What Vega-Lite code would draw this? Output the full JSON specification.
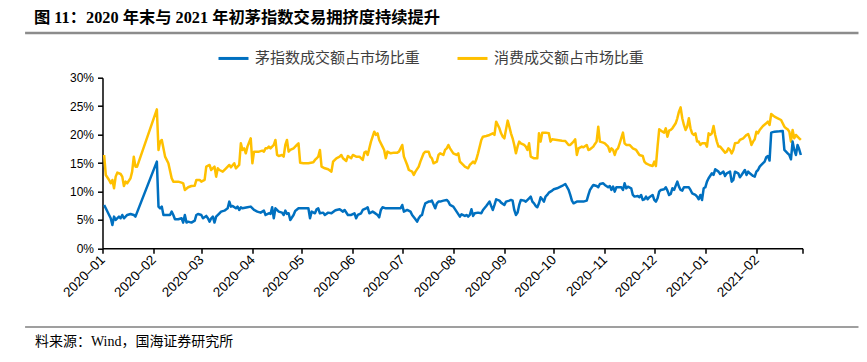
{
  "$schema": "https://vega.github.io/schema/vega-lite/v6.json",
  "width": 700,
  "height": 170.6,
  "autosize": {"type": "none"},
  "padding": {"left": 102.5, "top": 77.7, "right": 64.3, "bottom": 113.7},
  "background": "#ffffff",
  "config": {
    "view": {"stroke": null},
    "font": "Liberation Sans",
    "axis": {"grid": false, "domainColor": "#000000", "domainWidth": 1.5, "tickColor": "#000000", "tickWidth": 1.5, "tickSize": 5, "labelPadding": 4, "labelFont": "Liberation Sans", "labelFontSize": 12, "labelColor": "#000000", "labelOverlap": false, "labelBound": false, "title": null},
    "axisX": {"labelAngle": -45, "labelAlign": "right", "labelBaseline": "middle", "labelPadding": 4, "labelFontSize": 13.5}
  },
  "title": {
    "text": "图 11：2020 年末与 2021 年初茅指数交易拥挤度持续提升",
    "anchor": "start",
    "frame": "group",
    "dx": -68.5,
    "offset": 5,
    "font": "'Liberation Serif', 'Noto Sans CJK SC'",
    "fontSize": 16.3,
    "fontWeight": "bold",
    "color": "#000000"
  },
  "datasets": {
    "xf": [
      {"d":"2020-01-02","v":16.41},{"d":"2020-01-03","v":12.90},{"d":"2020-01-05","v":12.02},{"d":"2020-01-06","v":11.43},{"d":"2020-01-07","v":12.02},{"d":"2020-01-08","v":10.55},{"d":"2020-01-09","v":12.60},{"d":"2020-01-10","v":13.31},{"d":"2020-01-12","v":13.07},{"d":"2020-01-13","v":12.60},{"d":"2020-01-14","v":10.96},{"d":"2020-01-15","v":11.72},{"d":"2020-01-16","v":11.43},{"d":"2020-01-18","v":12.31},{"d":"2020-01-19","v":13.48},{"d":"2020-01-20","v":16.12},{"d":"2020-01-21","v":14.36},{"d":"2020-01-22","v":14.36},
      {"d":"2020-02-03","v":24.44},{"d":"2020-02-04","v":17.29},{"d":"2020-02-05","v":18.76},{"d":"2020-02-06","v":19.05},{"d":"2020-02-07","v":17.58},{"d":"2020-02-08","v":16.12},{"d":"2020-02-10","v":14.95},{"d":"2020-02-12","v":12.31},{"d":"2020-02-13","v":11.72},{"d":"2020-02-16","v":11.72},{"d":"2020-02-18","v":11.55},{"d":"2020-02-19","v":11.43},{"d":"2020-02-20","v":10.26},{"d":"2020-02-22","v":10.73},{"d":"2020-02-24","v":10.96},{"d":"2020-02-26","v":11.02},{"d":"2020-02-27","v":12.02},{"d":"2020-02-29","v":12.02},
      {"d":"2020-03-01","v":11.72},{"d":"2020-03-03","v":12.02},{"d":"2020-03-04","v":14.36},{"d":"2020-03-06","v":14.65},{"d":"2020-03-07","v":13.77},{"d":"2020-03-09","v":14.36},{"d":"2020-03-10","v":12.60},{"d":"2020-03-11","v":14.07},{"d":"2020-03-12","v":13.77},{"d":"2020-03-14","v":13.48},{"d":"2020-03-16","v":14.07},{"d":"2020-03-18","v":14.65},{"d":"2020-03-19","v":14.24},{"d":"2020-03-21","v":14.95},{"d":"2020-03-22","v":14.07},{"d":"2020-03-24","v":14.65},{"d":"2020-03-25","v":18.46},{"d":"2020-03-26","v":17.29},{"d":"2020-03-27","v":17.58},{"d":"2020-03-28","v":16.70},{"d":"2020-03-29","v":17.88},{"d":"2020-03-31","v":19.34},
      {"d":"2020-04-01","v":14.95},{"d":"2020-04-02","v":17.00},{"d":"2020-04-03","v":17.00},{"d":"2020-04-05","v":17.00},{"d":"2020-04-07","v":17.17},{"d":"2020-04-08","v":17.00},{"d":"2020-04-09","v":17.58},{"d":"2020-04-10","v":17.58},{"d":"2020-04-11","v":17.88},{"d":"2020-04-12","v":17.58},{"d":"2020-04-14","v":18.17},{"d":"2020-04-15","v":19.05},{"d":"2020-04-16","v":16.41},{"d":"2020-04-17","v":16.24},{"d":"2020-04-19","v":16.41},{"d":"2020-04-20","v":16.12},{"d":"2020-04-21","v":18.17},{"d":"2020-04-22","v":19.05},{"d":"2020-04-23","v":17.00},{"d":"2020-04-24","v":17.29},{"d":"2020-04-26","v":17.58},{"d":"2020-04-28","v":18.17},{"d":"2020-04-29","v":18.46},{"d":"2020-04-30","v":15.06},
      {"d":"2020-05-02","v":14.95},{"d":"2020-05-05","v":14.95},{"d":"2020-05-08","v":15.12},{"d":"2020-05-09","v":15.53},{"d":"2020-05-10","v":15.83},{"d":"2020-05-11","v":16.12},{"d":"2020-05-12","v":17.29},{"d":"2020-05-13","v":14.36},{"d":"2020-05-15","v":14.07},{"d":"2020-05-17","v":13.89},{"d":"2020-05-19","v":13.48},{"d":"2020-05-20","v":15.24},{"d":"2020-05-22","v":15.83},{"d":"2020-05-24","v":16.12},{"d":"2020-05-25","v":16.41},{"d":"2020-05-26","v":15.83},{"d":"2020-05-28","v":15.36},{"d":"2020-05-29","v":16.24},{"d":"2020-05-31","v":15.83},
      {"d":"2020-06-01","v":16.41},{"d":"2020-06-03","v":16.12},{"d":"2020-06-05","v":16.12},{"d":"2020-06-07","v":15.53},{"d":"2020-06-08","v":16.82},{"d":"2020-06-09","v":17.00},{"d":"2020-06-10","v":16.41},{"d":"2020-06-12","v":18.76},{"d":"2020-06-14","v":20.51},{"d":"2020-06-15","v":19.93},{"d":"2020-06-16","v":20.22},{"d":"2020-06-17","v":19.05},{"d":"2020-06-19","v":17.88},{"d":"2020-06-20","v":17.29},{"d":"2020-06-21","v":15.83},{"d":"2020-06-22","v":17.00},{"d":"2020-06-24","v":16.70},{"d":"2020-06-26","v":16.82},{"d":"2020-06-28","v":16.82},{"d":"2020-06-29","v":17.00},
      {"d":"2020-07-01","v":18.17},{"d":"2020-07-02","v":16.12},{"d":"2020-07-04","v":14.65},{"d":"2020-07-05","v":13.77},{"d":"2020-07-07","v":13.48},{"d":"2020-07-08","v":12.90},{"d":"2020-07-09","v":13.48},{"d":"2020-07-11","v":14.36},{"d":"2020-07-12","v":15.24},{"d":"2020-07-14","v":16.70},{"d":"2020-07-15","v":17.00},{"d":"2020-07-17","v":17.00},{"d":"2020-07-18","v":16.12},{"d":"2020-07-19","v":15.83},{"d":"2020-07-20","v":14.95},{"d":"2020-07-22","v":15.24},{"d":"2020-07-23","v":16.41},{"d":"2020-07-24","v":16.70},{"d":"2020-07-26","v":16.41},{"d":"2020-07-27","v":17.29},{"d":"2020-07-28","v":17.58},{"d":"2020-07-29","v":18.17},{"d":"2020-07-30","v":17.58},
      {"d":"2020-08-01","v":16.70},{"d":"2020-08-03","v":16.41},{"d":"2020-08-04","v":16.70},{"d":"2020-08-05","v":15.24},{"d":"2020-08-07","v":14.65},{"d":"2020-08-08","v":14.36},{"d":"2020-08-10","v":14.07},{"d":"2020-08-11","v":14.65},{"d":"2020-08-12","v":14.95},{"d":"2020-08-13","v":15.24},{"d":"2020-08-14","v":14.95},{"d":"2020-08-15","v":15.65},{"d":"2020-08-16","v":16.70},{"d":"2020-08-18","v":19.05},{"d":"2020-08-19","v":19.63},{"d":"2020-08-21","v":19.75},{"d":"2020-08-23","v":19.93},{"d":"2020-08-25","v":20.22},{"d":"2020-08-26","v":19.93},{"d":"2020-08-27","v":22.27},{"d":"2020-08-29","v":21.10},{"d":"2020-08-30","v":20.22},{"d":"2020-08-31","v":19.63},
      {"d":"2020-09-01","v":19.34},{"d":"2020-09-03","v":22.45},{"d":"2020-09-04","v":21.39},{"d":"2020-09-05","v":20.22},{"d":"2020-09-06","v":19.34},{"d":"2020-09-07","v":18.17},{"d":"2020-09-08","v":16.70},{"d":"2020-09-09","v":17.88},{"d":"2020-09-10","v":18.76},{"d":"2020-09-11","v":18.46},{"d":"2020-09-13","v":18.17},{"d":"2020-09-14","v":17.88},{"d":"2020-09-15","v":17.29},{"d":"2020-09-16","v":18.46},{"d":"2020-09-17","v":16.12},{"d":"2020-09-19","v":15.83},{"d":"2020-09-21","v":15.83},{"d":"2020-09-22","v":20.22},{"d":"2020-09-23","v":18.76},{"d":"2020-09-24","v":20.34},{"d":"2020-09-26","v":20.34},{"d":"2020-09-28","v":20.22},{"d":"2020-09-29","v":18.76},{"d":"2020-09-30","v":19.17},
      {"d":"2020-10-03","v":19.05},{"d":"2020-10-06","v":18.93},{"d":"2020-10-08","v":18.87},{"d":"2020-10-10","v":18.17},{"d":"2020-10-11","v":18.17},{"d":"2020-10-13","v":18.76},{"d":"2020-10-14","v":19.17},{"d":"2020-10-15","v":16.41},{"d":"2020-10-16","v":17.58},{"d":"2020-10-18","v":17.88},{"d":"2020-10-19","v":17.76},{"d":"2020-10-21","v":18.17},{"d":"2020-10-22","v":17.29},{"d":"2020-10-23","v":17.41},{"d":"2020-10-25","v":17.88},{"d":"2020-10-26","v":18.35},{"d":"2020-10-27","v":18.76},{"d":"2020-10-28","v":21.39},{"d":"2020-10-29","v":18.76},{"d":"2020-10-31","v":18.58},
      {"d":"2020-11-01","v":18.46},{"d":"2020-11-03","v":17.88},{"d":"2020-11-04","v":17.00},{"d":"2020-11-05","v":17.58},{"d":"2020-11-06","v":17.29},{"d":"2020-11-07","v":16.41},{"d":"2020-11-08","v":17.29},{"d":"2020-11-09","v":17.58},{"d":"2020-11-10","v":18.46},{"d":"2020-11-12","v":20.34},{"d":"2020-11-13","v":18.46},{"d":"2020-11-14","v":18.17},{"d":"2020-11-16","v":18.17},{"d":"2020-11-18","v":17.58},{"d":"2020-11-20","v":17.29},{"d":"2020-11-22","v":16.41},{"d":"2020-11-24","v":16.24},{"d":"2020-11-25","v":15.24},{"d":"2020-11-26","v":14.95},{"d":"2020-11-28","v":14.65},{"d":"2020-11-30","v":14.48},
      {"d":"2020-12-01","v":15.24},{"d":"2020-12-02","v":14.48},{"d":"2020-12-03","v":17.88},{"d":"2020-12-04","v":20.92},{"d":"2020-12-06","v":20.51},{"d":"2020-12-07","v":20.34},{"d":"2020-12-08","v":21.10},{"d":"2020-12-09","v":19.63},{"d":"2020-12-10","v":20.69},{"d":"2020-12-11","v":20.81},{"d":"2020-12-12","v":21.10},{"d":"2020-12-14","v":21.98},{"d":"2020-12-15","v":22.86},{"d":"2020-12-16","v":24.03},{"d":"2020-12-17","v":24.79},{"d":"2020-12-18","v":22.86},{"d":"2020-12-19","v":21.69},{"d":"2020-12-20","v":20.81},{"d":"2020-12-21","v":21.39},{"d":"2020-12-22","v":22.86},{"d":"2020-12-23","v":21.10},{"d":"2020-12-24","v":20.22},{"d":"2020-12-25","v":19.93},{"d":"2020-12-26","v":20.22},{"d":"2020-12-27","v":18.76},{"d":"2020-12-28","v":18.76},{"d":"2020-12-29","v":18.17},{"d":"2020-12-30","v":18.46},
      {"d":"2021-01-01","v":18.46},{"d":"2021-01-02","v":17.88},{"d":"2021-01-03","v":20.22},{"d":"2021-01-04","v":19.93},{"d":"2021-01-05","v":20.22},{"d":"2021-01-06","v":21.51},{"d":"2021-01-07","v":19.93},{"d":"2021-01-08","v":18.76},{"d":"2021-01-09","v":17.88},{"d":"2021-01-10","v":17.88},{"d":"2021-01-12","v":17.17},{"d":"2021-01-13","v":16.82},{"d":"2021-01-14","v":17.00},{"d":"2021-01-15","v":17.58},{"d":"2021-01-16","v":17.29},{"d":"2021-01-17","v":16.70},{"d":"2021-01-18","v":17.29},{"d":"2021-01-19","v":18.46},{"d":"2021-01-21","v":18.58},{"d":"2021-01-22","v":19.05},{"d":"2021-01-24","v":19.34},{"d":"2021-01-26","v":19.93},{"d":"2021-01-27","v":20.10},{"d":"2021-01-28","v":19.34},{"d":"2021-01-29","v":18.17},{"d":"2021-01-30","v":18.76},{"d":"2021-01-31","v":19.17},
      {"d":"2021-02-01","v":20.51},{"d":"2021-02-02","v":20.22},{"d":"2021-02-03","v":20.81},{"d":"2021-02-05","v":21.51},{"d":"2021-02-07","v":21.98},{"d":"2021-02-08","v":22.27},{"d":"2021-02-09","v":21.69},{"d":"2021-02-10","v":23.62},{"d":"2021-02-12","v":23.15},{"d":"2021-02-14","v":22.86},{"d":"2021-02-16","v":22.56},{"d":"2021-02-18","v":21.39},{"d":"2021-02-19","v":21.10},{"d":"2021-02-20","v":20.92},{"d":"2021-02-21","v":20.51},{"d":"2021-02-22","v":18.76},{"d":"2021-02-23","v":20.81},{"d":"2021-02-24","v":19.34},{"d":"2021-02-25","v":19.93},{"d":"2021-02-26","v":19.63},{"d":"2021-02-27","v":19.34},{"d":"2021-02-28","v":19.05}
    ],
    "mao": [
      {"d":"2020-01-02","v":7.62},{"d":"2020-01-03","v":7.03},{"d":"2020-01-05","v":5.86},{"d":"2020-01-06","v":5.28},{"d":"2020-01-07","v":4.11},{"d":"2020-01-08","v":5.57},{"d":"2020-01-09","v":4.98},{"d":"2020-01-11","v":5.57},{"d":"2020-01-12","v":5.28},{"d":"2020-01-13","v":5.86},{"d":"2020-01-14","v":5.28},{"d":"2020-01-16","v":5.86},{"d":"2020-01-18","v":6.04},{"d":"2020-01-20","v":5.86},{"d":"2020-01-21","v":5.57},
      {"d":"2020-02-03","v":15.24},{"d":"2020-02-04","v":7.33},{"d":"2020-02-05","v":7.03},{"d":"2020-02-06","v":7.33},{"d":"2020-02-07","v":5.86},{"d":"2020-02-09","v":5.86},{"d":"2020-02-11","v":5.86},{"d":"2020-02-12","v":6.45},{"d":"2020-02-13","v":5.86},{"d":"2020-02-14","v":5.10},{"d":"2020-02-16","v":5.10},{"d":"2020-02-18","v":5.28},{"d":"2020-02-19","v":4.52},{"d":"2020-02-20","v":5.86},{"d":"2020-02-21","v":4.52},{"d":"2020-02-22","v":4.69},{"d":"2020-02-24","v":4.52},{"d":"2020-02-26","v":4.87},{"d":"2020-02-27","v":5.86},{"d":"2020-02-28","v":6.04},
      {"d":"2020-03-01","v":5.86},{"d":"2020-03-02","v":5.28},{"d":"2020-03-04","v":5.69},{"d":"2020-03-05","v":5.28},{"d":"2020-03-06","v":4.69},{"d":"2020-03-07","v":5.28},{"d":"2020-03-08","v":5.57},{"d":"2020-03-09","v":4.52},{"d":"2020-03-10","v":5.57},{"d":"2020-03-12","v":6.16},{"d":"2020-03-13","v":6.45},{"d":"2020-03-15","v":6.62},{"d":"2020-03-17","v":7.03},{"d":"2020-03-18","v":8.21},{"d":"2020-03-19","v":7.33},{"d":"2020-03-20","v":7.45},{"d":"2020-03-22","v":7.03},{"d":"2020-03-23","v":7.33},{"d":"2020-03-24","v":6.74},{"d":"2020-03-25","v":7.21},{"d":"2020-03-26","v":7.03},{"d":"2020-03-29","v":7.21},{"d":"2020-03-31","v":7.33},
      {"d":"2020-04-02","v":6.74},{"d":"2020-04-04","v":6.45},{"d":"2020-04-06","v":6.27},{"d":"2020-04-08","v":6.62},{"d":"2020-04-09","v":5.86},{"d":"2020-04-11","v":6.16},{"d":"2020-04-12","v":6.04},{"d":"2020-04-13","v":7.21},{"d":"2020-04-14","v":5.28},{"d":"2020-04-15","v":7.03},{"d":"2020-04-17","v":6.45},{"d":"2020-04-19","v":6.27},{"d":"2020-04-20","v":5.86},{"d":"2020-04-21","v":6.62},{"d":"2020-04-22","v":6.04},{"d":"2020-04-23","v":6.16},{"d":"2020-04-24","v":4.98},{"d":"2020-04-26","v":5.86},{"d":"2020-04-27","v":6.57},{"d":"2020-04-29","v":7.03},
      {"d":"2020-05-01","v":7.03},{"d":"2020-05-03","v":7.03},{"d":"2020-05-05","v":7.03},{"d":"2020-05-06","v":5.28},{"d":"2020-05-07","v":6.45},{"d":"2020-05-09","v":6.16},{"d":"2020-05-10","v":6.86},{"d":"2020-05-11","v":7.03},{"d":"2020-05-12","v":6.16},{"d":"2020-05-14","v":6.27},{"d":"2020-05-15","v":5.86},{"d":"2020-05-17","v":6.27},{"d":"2020-05-19","v":6.16},{"d":"2020-05-21","v":6.62},{"d":"2020-05-22","v":6.74},{"d":"2020-05-24","v":6.86},{"d":"2020-05-26","v":6.45},{"d":"2020-05-27","v":6.74},{"d":"2020-05-29","v":5.86},{"d":"2020-05-31","v":5.86},
      {"d":"2020-06-02","v":6.16},{"d":"2020-06-03","v":5.28},{"d":"2020-06-04","v":5.86},{"d":"2020-06-06","v":6.16},{"d":"2020-06-07","v":6.74},{"d":"2020-06-09","v":7.03},{"d":"2020-06-10","v":7.21},{"d":"2020-06-11","v":6.16},{"d":"2020-06-13","v":6.45},{"d":"2020-06-14","v":6.27},{"d":"2020-06-16","v":5.86},{"d":"2020-06-17","v":5.45},{"d":"2020-06-18","v":6.74},{"d":"2020-06-19","v":7.21},{"d":"2020-06-21","v":7.03},{"d":"2020-06-23","v":7.03},{"d":"2020-06-25","v":7.03},{"d":"2020-06-28","v":7.03},{"d":"2020-06-30","v":7.03},
      {"d":"2020-07-01","v":7.62},{"d":"2020-07-02","v":6.45},{"d":"2020-07-04","v":6.74},{"d":"2020-07-06","v":6.45},{"d":"2020-07-07","v":5.86},{"d":"2020-07-09","v":5.10},{"d":"2020-07-10","v":4.69},{"d":"2020-07-11","v":5.28},{"d":"2020-07-12","v":5.69},{"d":"2020-07-13","v":5.86},{"d":"2020-07-14","v":7.03},{"d":"2020-07-15","v":7.91},{"d":"2020-07-17","v":8.21},{"d":"2020-07-18","v":8.21},{"d":"2020-07-19","v":8.38},{"d":"2020-07-21","v":7.03},{"d":"2020-07-22","v":7.91},{"d":"2020-07-23","v":8.21},{"d":"2020-07-24","v":8.21},{"d":"2020-07-26","v":8.38},{"d":"2020-07-28","v":8.50},{"d":"2020-07-29","v":8.21},{"d":"2020-07-30","v":7.62},
      {"d":"2020-08-01","v":7.33},{"d":"2020-08-03","v":6.45},{"d":"2020-08-05","v":5.57},{"d":"2020-08-06","v":5.98},{"d":"2020-08-08","v":5.69},{"d":"2020-08-09","v":5.86},{"d":"2020-08-10","v":5.57},{"d":"2020-08-11","v":5.86},{"d":"2020-08-12","v":6.86},{"d":"2020-08-13","v":5.69},{"d":"2020-08-14","v":6.16},{"d":"2020-08-16","v":6.27},{"d":"2020-08-18","v":6.16},{"d":"2020-08-19","v":6.74},{"d":"2020-08-21","v":7.45},{"d":"2020-08-23","v":8.21},{"d":"2020-08-24","v":7.45},{"d":"2020-08-25","v":6.74},{"d":"2020-08-26","v":7.62},{"d":"2020-08-27","v":8.62},{"d":"2020-08-29","v":8.38},{"d":"2020-08-30","v":8.03},
      {"d":"2020-09-01","v":7.62},{"d":"2020-09-02","v":8.21},{"d":"2020-09-04","v":8.38},{"d":"2020-09-05","v":8.50},{"d":"2020-09-06","v":8.38},{"d":"2020-09-07","v":6.74},{"d":"2020-09-08","v":5.86},{"d":"2020-09-09","v":6.27},{"d":"2020-09-10","v":7.62},{"d":"2020-09-11","v":8.50},{"d":"2020-09-13","v":8.38},{"d":"2020-09-14","v":8.21},{"d":"2020-09-16","v":8.79},{"d":"2020-09-17","v":9.09},{"d":"2020-09-18","v":8.21},{"d":"2020-09-19","v":7.91},{"d":"2020-09-20","v":7.45},{"d":"2020-09-21","v":7.21},{"d":"2020-09-22","v":7.91},{"d":"2020-09-23","v":8.97},{"d":"2020-09-24","v":8.62},{"d":"2020-09-25","v":8.21},{"d":"2020-09-26","v":9.09},{"d":"2020-09-27","v":9.38},{"d":"2020-09-28","v":9.79},{"d":"2020-09-30","v":10.14},
      {"d":"2020-10-01","v":10.38},{"d":"2020-10-03","v":10.55},{"d":"2020-10-06","v":10.96},{"d":"2020-10-08","v":11.31},{"d":"2020-10-10","v":10.26},{"d":"2020-10-11","v":9.38},{"d":"2020-10-12","v":8.38},{"d":"2020-10-13","v":7.91},{"d":"2020-10-15","v":8.21},{"d":"2020-10-17","v":8.21},{"d":"2020-10-19","v":8.21},{"d":"2020-10-21","v":8.38},{"d":"2020-10-22","v":9.38},{"d":"2020-10-23","v":10.26},{"d":"2020-10-24","v":10.73},{"d":"2020-10-25","v":11.14},{"d":"2020-10-27","v":10.96},{"d":"2020-10-28","v":10.73},{"d":"2020-10-29","v":11.31},{"d":"2020-10-31","v":11.43},
      {"d":"2020-11-01","v":11.14},{"d":"2020-11-03","v":10.73},{"d":"2020-11-04","v":10.96},{"d":"2020-11-05","v":10.26},{"d":"2020-11-06","v":10.84},{"d":"2020-11-07","v":9.97},{"d":"2020-11-08","v":10.73},{"d":"2020-11-09","v":10.73},{"d":"2020-11-11","v":10.73},{"d":"2020-11-12","v":10.26},{"d":"2020-11-13","v":11.43},{"d":"2020-11-14","v":10.55},{"d":"2020-11-15","v":10.84},{"d":"2020-11-17","v":10.55},{"d":"2020-11-18","v":9.38},{"d":"2020-11-19","v":9.09},{"d":"2020-11-21","v":9.20},{"d":"2020-11-22","v":8.97},{"d":"2020-11-23","v":9.38},{"d":"2020-11-24","v":8.50},{"d":"2020-11-25","v":8.62},{"d":"2020-11-26","v":9.09},{"d":"2020-11-27","v":8.62},{"d":"2020-11-28","v":8.97},{"d":"2020-11-30","v":9.38},
      {"d":"2020-12-01","v":8.50},{"d":"2020-12-02","v":8.21},{"d":"2020-12-03","v":8.79},{"d":"2020-12-04","v":9.97},{"d":"2020-12-05","v":10.26},{"d":"2020-12-07","v":10.38},{"d":"2020-12-08","v":10.73},{"d":"2020-12-09","v":10.14},{"d":"2020-12-10","v":9.38},{"d":"2020-12-11","v":9.55},{"d":"2020-12-12","v":10.55},{"d":"2020-12-13","v":10.26},{"d":"2020-12-15","v":11.72},{"d":"2020-12-16","v":10.84},{"d":"2020-12-17","v":10.26},{"d":"2020-12-18","v":10.14},{"d":"2020-12-19","v":10.73},{"d":"2020-12-20","v":10.73},{"d":"2020-12-22","v":10.73},{"d":"2020-12-23","v":10.26},{"d":"2020-12-24","v":9.67},{"d":"2020-12-26","v":9.38},{"d":"2020-12-27","v":9.09},{"d":"2020-12-28","v":8.62},{"d":"2020-12-29","v":9.38},{"d":"2020-12-30","v":8.50},{"d":"2020-12-31","v":10.55},
      {"d":"2021-01-01","v":10.73},{"d":"2021-01-02","v":11.72},{"d":"2021-01-03","v":12.31},{"d":"2021-01-05","v":13.19},{"d":"2021-01-06","v":12.90},{"d":"2021-01-07","v":13.89},{"d":"2021-01-09","v":13.48},{"d":"2021-01-10","v":13.07},{"d":"2021-01-12","v":13.48},{"d":"2021-01-13","v":12.72},{"d":"2021-01-14","v":13.19},{"d":"2021-01-16","v":13.48},{"d":"2021-01-17","v":11.72},{"d":"2021-01-18","v":12.02},{"d":"2021-01-19","v":13.48},{"d":"2021-01-21","v":13.19},{"d":"2021-01-22","v":12.49},{"d":"2021-01-23","v":12.90},{"d":"2021-01-25","v":13.77},{"d":"2021-01-26","v":12.90},{"d":"2021-01-27","v":13.48},{"d":"2021-01-28","v":13.19},{"d":"2021-01-30","v":12.72},{"d":"2021-01-31","v":12.60},
      {"d":"2021-02-01","v":13.48},{"d":"2021-02-02","v":13.77},{"d":"2021-02-03","v":14.36},{"d":"2021-02-04","v":14.65},{"d":"2021-02-06","v":15.24},{"d":"2021-02-07","v":16.00},{"d":"2021-02-08","v":16.24},{"d":"2021-02-09","v":15.43},{"d":"2021-02-10","v":20.34},{"d":"2021-02-12","v":20.51},{"d":"2021-02-15","v":20.57},{"d":"2021-02-17","v":20.63},{"d":"2021-02-18","v":17.29},{"d":"2021-02-20","v":16.70},{"d":"2021-02-21","v":16.41},{"d":"2021-02-22","v":15.65},{"d":"2021-02-23","v":18.76},{"d":"2021-02-24","v":17.29},{"d":"2021-02-25","v":16.41},{"d":"2021-02-26","v":18.17},{"d":"2021-02-27","v":17.41},{"d":"2021-02-28","v":16.41}
    ]
  },
  "layer": [
    {
      "data": {"name": "xf"},
      "mark": {"type": "line", "strokeWidth": 2.5, "strokeJoin": "round"},
      "encoding": {
        "x": {"field": "d", "type": "temporal", "title": null,
          "scale": {"type": "utc", "domain": [{"year": 2020, "month": 1, "date": 1, "utc": true}, {"year": 2021, "month": 3, "date": 1, "utc": true}]},
          "axis": {
            "values": [
              {"year": 2020, "month": 1, "date": 1, "utc": true},{"year": 2020, "month": 2, "date": 1, "utc": true},{"year": 2020, "month": 3, "date": 1, "utc": true},{"year": 2020, "month": 4, "date": 1, "utc": true},{"year": 2020, "month": 5, "date": 1, "utc": true},{"year": 2020, "month": 6, "date": 1, "utc": true},{"year": 2020, "month": 7, "date": 1, "utc": true},{"year": 2020, "month": 8, "date": 1, "utc": true},{"year": 2020, "month": 9, "date": 1, "utc": true},{"year": 2020, "month": 10, "date": 1, "utc": true},{"year": 2020, "month": 11, "date": 1, "utc": true},{"year": 2020, "month": 12, "date": 1, "utc": true},{"year": 2021, "month": 1, "date": 1, "utc": true},{"year": 2021, "month": 2, "date": 1, "utc": true},{"year": 2021, "month": 3, "date": 1, "utc": true}
            ],
            "labelExpr": "datum.value >= utc(2021, 2, 1) ? '' : utcFormat(datum.value, '%Y–%m')"
          }
        },
        "y": {"field": "v", "type": "quantitative", "title": null,
          "scale": {"domain": [0, 30], "nice": false},
          "axis": {"values": [0, 5, 10, 15, 20, 25, 30], "labelExpr": "datum.value + '%'"}
        },
        "color": {"datum": "消费成交额占市场比重", "type": "nominal",
          "scale": {"domain": ["茅指数成交额占市场比重", "消费成交额占市场比重"], "range": ["#0070C0", "#FFC000"]},
          "legend": {"orient": "none", "legendX": 114.5, "legendY": -36, "direction": "horizontal", "title": null, "symbolType": "stroke", "symbolSize": 900, "symbolStrokeWidth": 3, "labelFont": "Noto Sans CJK SC", "labelFontSize": 15, "labelColor": "#404040", "labelOffset": 5, "labelLimit": 0, "columnPadding": 30}
        }
      }
    },
    {
      "data": {"name": "mao"},
      "mark": {"type": "line", "strokeWidth": 2.5, "strokeJoin": "round"},
      "encoding": {
        "x": {"field": "d", "type": "temporal", "title": null},
        "y": {"field": "v", "type": "quantitative", "title": null,
          "axis": {"values": [0, 5, 10, 15, 20, 25, 30], "labelExpr": "datum.value + '%'"}},
        "color": {"datum": "茅指数成交额占市场比重", "type": "nominal"}
      }
    },
    {
      "data": {"values": [{}]},
      "mark": {"type": "rule", "color": "#8c8c8c", "strokeWidth": 2.5},
      "encoding": {
        "x": {"datum": {"year": 2019, "month": 11, "date": 15, "utc": true}, "type": "temporal", "title": null},
        "x2": {"datum": {"year": 2021, "month": 4, "date": 4, "utc": true}},
        "y": {"datum": 37.86, "type": "quantitative", "title": null,
          "axis": {"values": [0, 5, 10, 15, 20, 25, 30], "labelExpr": "datum.value + '%'"}}
      }
    },
    {
      "data": {"values": [{}]},
      "mark": {"type": "rule", "color": "#404040", "strokeWidth": 1.2},
      "encoding": {
        "x": {"datum": {"year": 2019, "month": 11, "date": 15, "utc": true}, "type": "temporal", "title": null},
        "x2": {"datum": {"year": 2021, "month": 4, "date": 4, "utc": true}},
        "y": {"datum": -13.84, "type": "quantitative", "title": null,
          "axis": {"values": [0, 5, 10, 15, 20, 25, 30], "labelExpr": "datum.value + '%'"}}
      }
    },
    {
      "data": {"values": [{}]},
      "mark": {"type": "text", "text": "料来源：Wind，国海证券研究所", "align": "left", "baseline": "middle", "font": "'Liberation Serif', 'Noto Sans CJK SC'", "fontSize": 14, "color": "#000000"},
      "encoding": {
        "x": {"datum": {"year": 2019, "month": 11, "date": 21, "utc": true}, "type": "temporal", "title": null},
        "y": {"datum": -16.48, "type": "quantitative", "title": null,
          "axis": {"values": [0, 5, 10, 15, 20, 25, 30], "labelExpr": "datum.value + '%'"}}
      }
    }
  ]
}
